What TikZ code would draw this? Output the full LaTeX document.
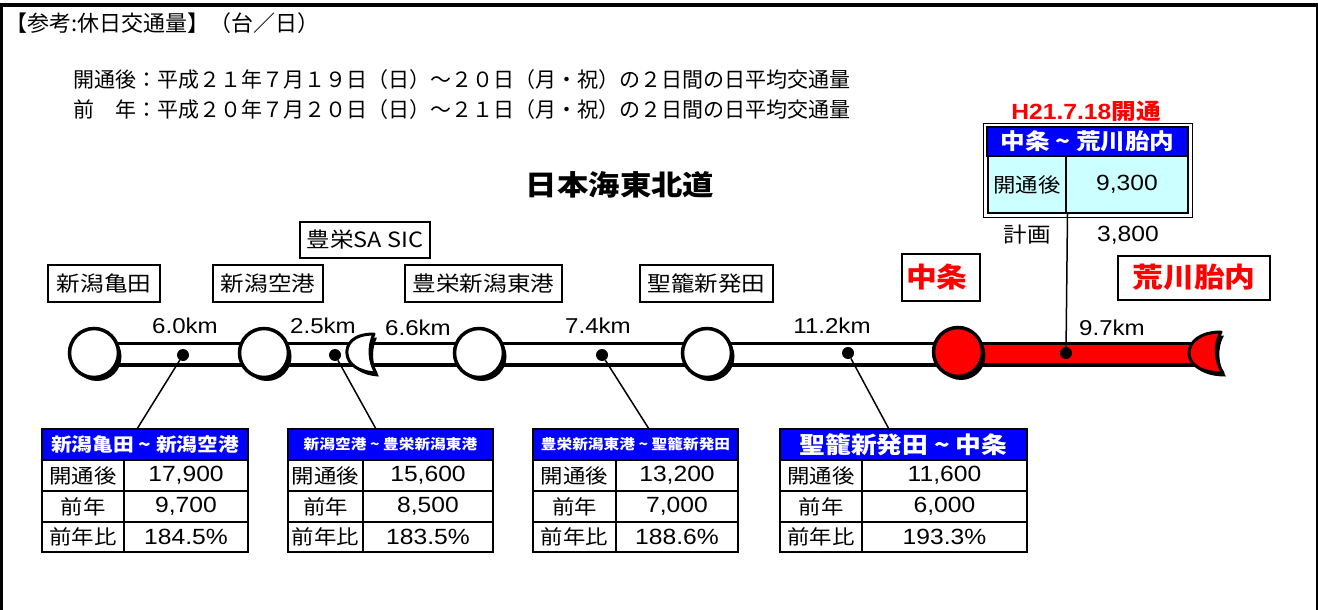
\documentclass[tikz,border=0pt]{standalone}
\usepackage{fontspec}
\setmainfont[FakeStretch=1.12]{Liberation Sans}
\newfontfamily\jp[FakeStretch=1.12]{Noto Sans CJK JP}
\newfontfamily\jpplain{Noto Sans CJK JP}
\usetikzlibrary{positioning,shadows}
\definecolor{hdrblue}{HTML}{0000FF}
\definecolor{cellcyan}{HTML}{CCFFFF}

\begin{document}
\begin{tikzpicture}[x=1pt,y=-1pt]
  \tikzset{StationStyle/.style = {
    shape         = circle,
    draw          = black,
    fill          = white,
    line width    = 3.5pt,
    inner sep     = 0pt,
    minimum size  = 49pt,
    drop shadow   = {shadow xshift=3pt, shadow yshift=-3.5pt, opacity=1, fill=black}
    }
  }
  \tikzset{RedStationStyle/.style = {
    StationStyle,
    fill          = red
    }
  }
  \tikzset{DotStyle/.style = {
    shape         = circle,
    fill          = black,
    inner sep     = 0pt,
    minimum size  = 12pt
    }
  }
  \tikzset{RoadStyle/.style = {
    draw            = black,
    line width      = 3.5pt,
    double          = white,
    double distance = 18pt
    }
  }
  \tikzset{RedRoadStyle/.style = {
    RoadStyle,
    double          = red
    }
  }
  \tikzset{IcStyle/.style = {
    draw          = black,
    fill          = white,
    line width    = 3pt,
    line join     = round,
    drop shadow   = {shadow xshift=3pt, shadow yshift=-3.5pt, opacity=1, fill=black}
    }
  }
  \tikzset{LeaderStyle/.style = {
    draw          = black,
    line width    = 1.5pt
    }
  }
  \tikzset{LabelStyle/.style = {
    shape         = rectangle,
    draw          = black,
    line width    = 2pt,
    inner sep     = 2pt,
    minimum height= 37pt,
    font          = \jp\fontsize{21}{24}\selectfont
    }
  }
  \tikzset{RedLabelStyle/.style = {
    LabelStyle,
    text          = red,
    font          = \jp\bfseries\fontsize{27.5}{30}\selectfont
    }
  }
  \tikzset{KmStyle/.style = {
    inner sep     = 0pt,
    font          = \fontsize{21.5}{24}\selectfont
    }
  }
  \tikzset{HeadStyle/.style = {
    shape         = rectangle,
    draw          = black,
    fill          = hdrblue,
    line width    = 2pt,
    text          = white,
    inner sep     = 0pt,
    minimum height= 31pt,
    font          = \jp\bfseries\fontsize{18.5}{20}\selectfont
    }
  }
  \tikzset{CellStyle/.style = {
    shape         = rectangle,
    draw          = black,
    fill          = white,
    line width    = 2pt,
    inner sep     = 0pt,
    minimum height= 31pt,
    font          = \jp\fontsize{20}{22}\selectfont
    }
  }
  \tikzset{NumStyle/.style = {
    CellStyle,
    font          = \fontsize{22}{24}\selectfont
    }
  }
  \tikzset{NoteStyle/.style = {
    anchor        = west,
    inner sep     = 0pt,
    font          = \jpplain\fontsize{21}{24}\selectfont
    }
  }

  \useasboundingbox (0,0) rectangle (1318,610);
  % frame
  \draw[line width=4pt] (0,5) -- (1318,5);
  \draw[line width=3pt] (1.5,5) -- (1.5,610);
  \draw[line width=2pt] (1317,5) -- (1317,610);

  % notes
  \node[NoteStyle, font=\jpplain\fontsize{22}{24}\selectfont] (n0) at (5,23) {【参考:休日交通量】（台／日）};
  \node[NoteStyle] (n1) at (73,80) {開通後：平成２１年７月１９日（日）～２０日（月・祝）の２日間の日平均交通量};
  \node[NoteStyle] (n2) at (73,110) {前　年：平成２０年７月２０日（日）～２１日（月・祝）の２日間の日平均交通量};
  \node[font=\jp\bfseries\fontsize{28}{30}\selectfont] (road) at (620,185) {日本海東北道};

  % road
  \coordinate (p1) at (94,354);
  \coordinate (p6) at (958,354);
  \coordinate (pe) at (1205,354);
  \draw[RoadStyle] (p1) -- (p6);
  \draw[RedRoadStyle] (p6) -- (pe);

  \node[StationStyle](c1) at (94,353) {};
  \node[StationStyle](c2) at (264,353) {};
  \draw[IcStyle] (374,334) .. controls (352,334) and (346,345) .. (347,354)
    .. controls (348,364) and (358,372) .. (376,373)
    .. controls (369,362) and (368,346) .. (374,334) -- cycle;
  \node[StationStyle](c4) at (479,353) {};
  \node[StationStyle](c5) at (707,353) {};
  \node[RedStationStyle](c6) at (958,352) {};
  \draw[IcStyle, fill=red] (1221,332) .. controls (1200,332) and (1189,342) .. (1189,353)
    .. controls (1189,364) and (1200,373) .. (1223,373)
    .. controls (1215,362) and (1214,344) .. (1221,332) -- cycle;

  \node[DotStyle](d1) at (183,355) {};
  \node[DotStyle](d2) at (335,355) {};
  \node[DotStyle](d3) at (602,355) {};
  \node[DotStyle](d4) at (848,353) {};
  \node[DotStyle](d5) at (1066,353) {};

  % km
  \node[KmStyle](k1) at (185,326) {6.0km};
  \node[KmStyle](k2) at (323,326) {2.5km};
  \node[KmStyle](k3) at (418,328) {6.6km};
  \node[KmStyle](k4) at (598,326) {7.4km};
  \node[KmStyle](k5) at (832,326) {11.2km};
  \node[KmStyle](k6) at (1112,328) {9.7km};

  % station names
  \node[LabelStyle, minimum width=112pt](s1) at (104,283.5) {新潟亀田};
  \node[LabelStyle, minimum width=110pt](s2) at (268,283.5) {新潟空港};
  \node[LabelStyle, minimum width=130pt, minimum height=36pt](s3) at (365,240) {豊栄SA SIC};
  \node[LabelStyle, minimum width=157pt](s4) at (483.5,283.5) {豊栄新潟東港};
  \node[LabelStyle, minimum width=133pt](s5) at (706.5,283.5) {聖籠新発田};
  \node[RedLabelStyle, minimum width=78pt, minimum height=47pt, text width=70pt, align=left](s6) at (941,277) {中条};
  \node[RedLabelStyle, minimum width=152pt, minimum height=44pt](s7) at (1194,277.5) {荒川胎内};

  % new section table
  \node[font=\bfseries\fontsize{22}{24}\selectfont, text=red, inner sep=0pt](open) at (1086,111) {H21.7.18{\jp 開通}};
  \draw[line width=1.5pt] (983.5,123.5) rectangle (1192.5,217.5);
  \node[HeadStyle, minimum width=201pt, minimum height=29pt, font=\jp\bfseries\fontsize{22}{24}\selectfont](t0h) at (1087.5,141.5) {中条 \textasciitilde{} 荒川胎内};
  \node[CellStyle, fill=cellcyan, minimum width=79pt, minimum height=57pt](t0a) at (1027,184.5) {開通後};
  \node[NumStyle, fill=cellcyan, minimum width=122pt, minimum height=57pt](t0b) at (1127,184.5) {9,300};
  \node[CellStyle, draw=none, fill=none, font=\jp\fontsize{21}{22}\selectfont](t0c) at (1027,235) {計画};
  \node[NumStyle, draw=none, fill=none](t0d) at (1128,235) {3,800};

  % tables
  \node[HeadStyle, minimum width=206pt](t1h) at (145,444.5) {新潟亀田 \textasciitilde{} 新潟空港};
  \node[CellStyle, minimum width=82pt](t1a) at (83,475.5) {開通後};
  \node[NumStyle, minimum width=124pt](t1b) at (186,475.5) {17,900};
  \node[CellStyle, minimum width=82pt](t1c) at (83,506.5) {前年};
  \node[NumStyle, minimum width=124pt](t1d) at (186,506.5) {9,700};
  \node[CellStyle, minimum width=82pt, minimum height=30pt](t1e) at (83,537) {前年比};
  \node[NumStyle, minimum width=124pt, minimum height=30pt](t1f) at (186,537) {184.5\%};

  \node[HeadStyle, minimum width=205pt, font=\jp\bfseries\fontsize{14}{16}\selectfont](t2h) at (390.5,444.5) {新潟空港 \textasciitilde{} 豊栄新潟東港};
  \node[CellStyle, minimum width=75pt](t2a) at (325.5,475.5) {開通後};
  \node[NumStyle, minimum width=130pt](t2b) at (428,475.5) {15,600};
  \node[CellStyle, minimum width=75pt](t2c) at (325.5,506.5) {前年};
  \node[NumStyle, minimum width=130pt](t2d) at (428,506.5) {8,500};
  \node[CellStyle, minimum width=75pt, minimum height=30pt](t2e) at (325.5,537) {前年比};
  \node[NumStyle, minimum width=130pt, minimum height=30pt](t2f) at (428,537) {183.5\%};

  \node[HeadStyle, minimum width=205pt, font=\jp\bfseries\fontsize{14}{16}\selectfont](t3h) at (635.5,444.5) {豊栄新潟東港 \textasciitilde{} 聖籠新発田};
  \node[CellStyle, minimum width=83pt](t3a) at (574.5,475.5) {開通後};
  \node[NumStyle, minimum width=122pt](t3b) at (677,475.5) {13,200};
  \node[CellStyle, minimum width=83pt](t3c) at (574.5,506.5) {前年};
  \node[NumStyle, minimum width=122pt](t3d) at (677,506.5) {7,000};
  \node[CellStyle, minimum width=83pt, minimum height=30pt](t3e) at (574.5,537) {前年比};
  \node[NumStyle, minimum width=122pt, minimum height=30pt](t3f) at (677,537) {188.6\%};

  \node[HeadStyle, minimum width=247pt, font=\jp\bfseries\fontsize{23}{25}\selectfont](t4h) at (903.5,444.5) {聖籠新発田 \textasciitilde{} 中条};
  \node[CellStyle, minimum width=82pt](t4a) at (821,475.5) {開通後};
  \node[NumStyle, minimum width=165pt](t4b) at (944.5,475.5) {11,600};
  \node[CellStyle, minimum width=82pt](t4c) at (821,506.5) {前年};
  \node[NumStyle, minimum width=165pt](t4d) at (944.5,506.5) {6,000};
  \node[CellStyle, minimum width=82pt, minimum height=30pt](t4e) at (821,537) {前年比};
  \node[NumStyle, minimum width=165pt, minimum height=30pt](t4f) at (944.5,537) {193.3\%};

  % leaders
  \coordinate (e1) at (137,429);
  \coordinate (e2) at (376,429);
  \coordinate (e3) at (649,429);
  \coordinate (e4) at (890,431);
  \draw[LeaderStyle] (d1) -- (e1);
  \draw[LeaderStyle] (d2) -- (e2);
  \draw[LeaderStyle] (d3) -- (e3);
  \draw[LeaderStyle] (d4) -- (e4);
  \draw[LeaderStyle] (t0a.south east) -- (d5);

\end{tikzpicture}
\end{document}
